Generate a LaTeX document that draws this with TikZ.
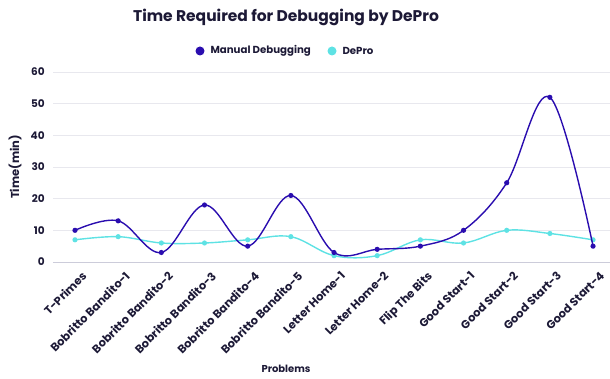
\documentclass[tikz,border=0pt]{standalone}
\usepackage{fontspec}
\setmainfont{Poppins}

\definecolor{manual}{HTML}{2A0DAF}
\definecolor{depro}{HTML}{5EE2E4}
\definecolor{inktext}{HTML}{1C1936}
\definecolor{gridgray}{HTML}{E8E8EE}
\definecolor{axisgray}{HTML}{CCCCDA}

\begin{document}
\begin{tikzpicture}[x=1pt,y=1pt,text=inktext,
  tick label/.style={font=\fontsize{10.5}{12}\selectfont\bfseries},
  problem label/.style={font=\fontsize{11.4}{13}\selectfont\bfseries,rotate=45,anchor=north east,inner sep=1pt}]
\tikzstyle{grid line} = [draw=gridgray,line width=0.8pt]
\tikzstyle{series line} = [line width=1.4pt]

\useasboundingbox (0,0) rectangle (610,379);

\node (title) at (286,362) {\fontsize{15.5}{18}\selectfont\bfseries Time Required for Debugging by DePro};

% Legend
\fill[manual] (200,328) circle (4.5);
\node[anchor=west,font=\fontsize{10.2}{12}\selectfont\bfseries] (manual label) at (207,328) {Manual Debugging};
\fill[depro] (332,328) circle (4.5);
\node[anchor=west,font=\fontsize{10.2}{12}\selectfont\bfseries] (depro label) at (339,328) {DePro};

\node[rotate=90,font=\fontsize{11.5}{13}\selectfont\bfseries] (ylabel) at (15,212) {Time(min)};
\node[font=\fontsize{10}{12}\selectfont\bfseries] (xlabel) at (286,10) {Problems};

\begin{scope}[shift={(75,117)},x=43.17pt,y=3.1667pt]
  \foreach \v in {10,20,...,60}
    \draw[grid line] (-0.51,\v) -- (12.4,\v);
  \draw[draw=axisgray,line width=0.9pt] (-0.51,0) -- (12.4,0);
  \foreach \v in {0,10,...,60}
    \node[tick label,anchor=east] (ytick\v) at (-0.62,\v) {\v};

  \foreach \name [count=\i from 0] in {T-Primes,Bobritto Bandito-1,Bobritto Bandito-2,Bobritto Bandito-3,Bobritto Bandito-4,Bobritto Bandito-5,Letter Home-1,Letter Home-2,Flip The Bits,Good Start-1,Good Start-2,Good Start-3,Good Start-4}
    \node[problem label] (prob\i) at ([xshift=6pt,yshift=-7pt]\i,0) {\name};

  \draw[series line,depro] plot[smooth,tension=0.6] coordinates {(0,7) (1,8) (2,6) (3,6) (4,7) (5,8) (6,2) (7,2) (8,7) (9,6) (10,10) (11,9) (12,7)};
  \foreach \v [count=\i from 0] in {7,8,6,6,7,8,2,2,7,6,10,9,7}
    \fill[depro] (\i,\v) circle (2.6pt);

  \draw[series line,manual] plot[smooth,tension=0.6] coordinates {(0,10) (1,13) (2,3) (3,18) (4,5) (5,21) (6,3) (7,4) (8,5) (9,10) (10,25) (11,52) (12,5)};
  \foreach \v [count=\i from 0] in {10,13,3,18,5,21,3,4,5,10,25,52,5}
    \fill[manual] (\i,\v) circle (2.6pt);
\end{scope}
\end{tikzpicture}
\end{document}
